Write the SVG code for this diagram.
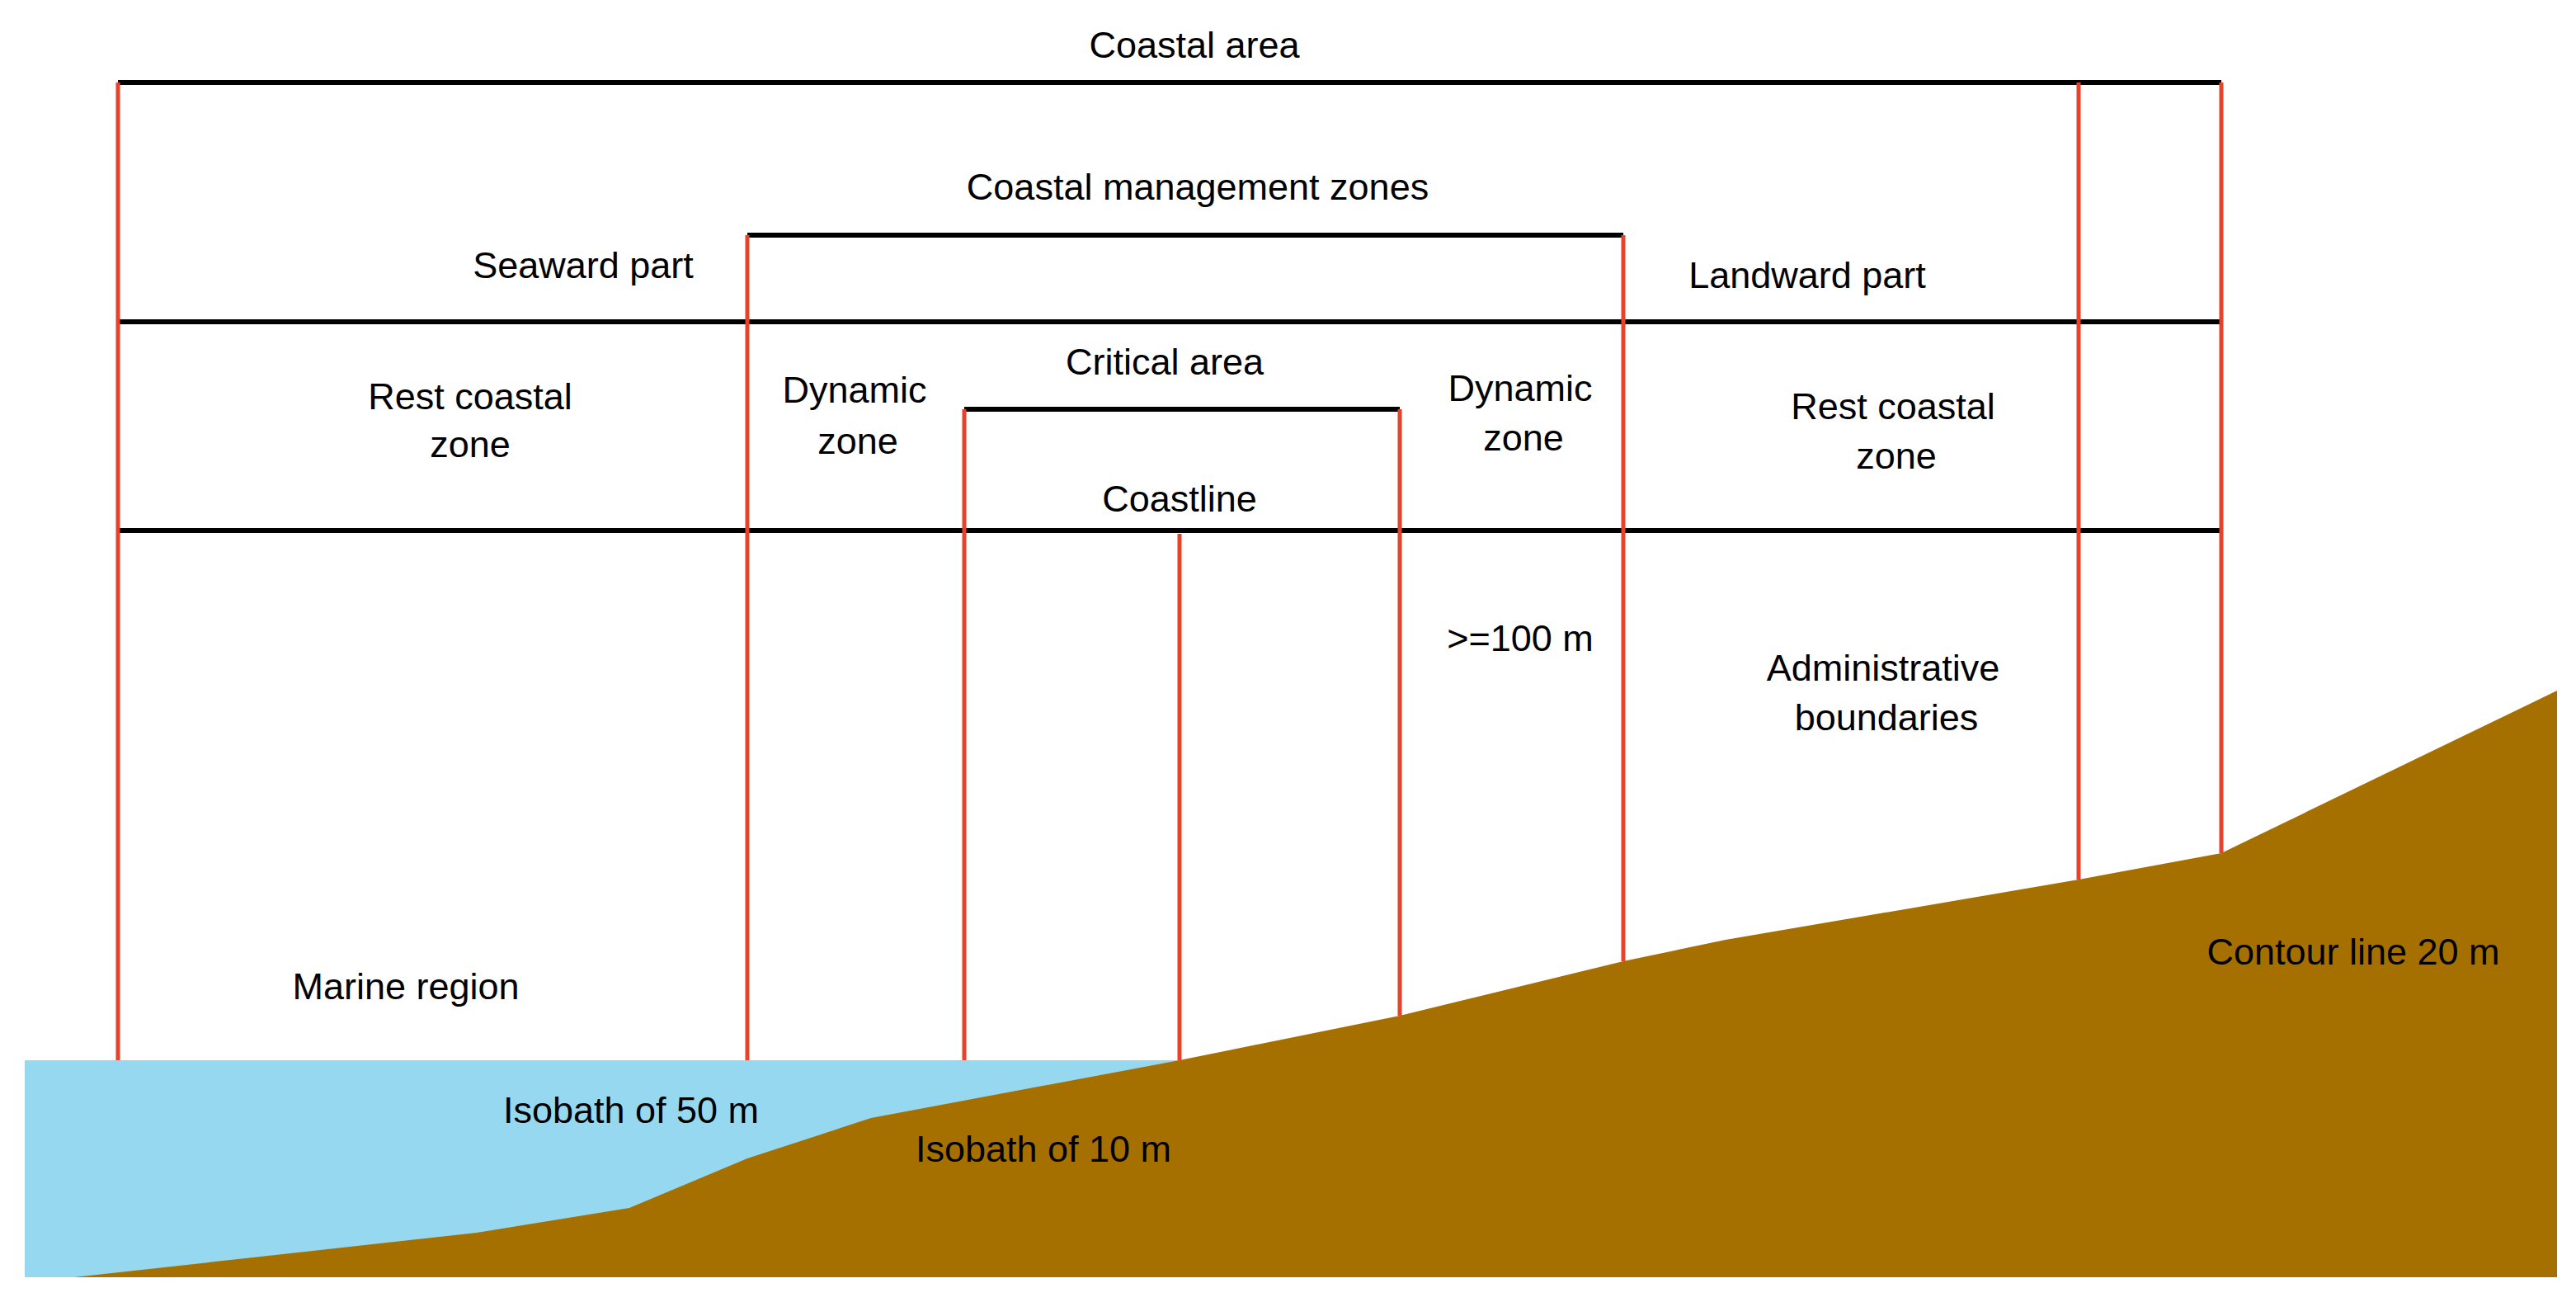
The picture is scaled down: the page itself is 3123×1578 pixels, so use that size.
<svg xmlns="http://www.w3.org/2000/svg" width="3123" height="1578" viewBox="0 0 3123 1578">
<style>
.b{stroke:#000;stroke-width:6;fill:none}
.r{stroke:#e8432a;stroke-width:5;fill:none}
text{font-family:"Liberation Sans",Arial,sans-serif;font-size:45px;fill:#000;text-anchor:middle;dominant-baseline:central}
</style>
<rect width="3123" height="1578" fill="#fff"/>
<g id="sea"><rect x="30" y="1285" width="1420" height="263" fill="#96d8ef"/></g>
<g id="land"><polygon fill="#a57000" points="90,1548 578,1494 763,1464 906,1404 1056,1355 1430,1285 1697,1231 1968,1165 2092,1139 2520,1066 2693,1034 3100,837 3100,1548"/></g>
<g id="connectors">
<line class="b" x1="143" y1="100" x2="2693" y2="100"/>
<line class="b" x1="143" y1="390" x2="2693" y2="390"/>
<line class="b" x1="143" y1="643" x2="2693" y2="643"/>
<line class="b" x1="906" y1="285" x2="1968" y2="285"/>
<line class="b" x1="1169" y1="496" x2="1697" y2="496"/>
<line class="r" x1="143" y1="100" x2="143" y2="1285"/>
<line class="r" x1="906" y1="285" x2="906" y2="1285"/>
<line class="r" x1="1169" y1="496" x2="1169" y2="1285"/>
<line class="r" x1="1430" y1="647" x2="1430" y2="1285"/>
<line class="r" x1="1697" y1="496" x2="1697" y2="1231"/>
<line class="r" x1="1968" y1="285" x2="1968" y2="1165"/>
<line class="r" x1="2520" y1="100" x2="2520" y2="1066"/>
<line class="r" x1="2693" y1="100" x2="2693" y2="1034"/>
</g>
<g id="coastal-area"><text x="1448" y="54">Coastal area</text></g>
<g id="management"><text x="1452" y="226">Coastal management zones</text></g>
<g id="seaward"><text x="707" y="321">Seaward part</text></g>
<g id="landward"><text x="2191" y="333">Landward part</text></g>
<g id="rest-sea"><text x="570" y="480">Rest coastal</text><text x="570" y="538">zone</text></g>
<g id="dyn-sea"><text x="1036" y="472">Dynamic</text><text x="1040" y="534">zone</text></g>
<g id="critical"><text x="1412" y="438">Critical area</text></g>
<g id="dyn-land"><text x="1843" y="470">Dynamic</text><text x="1847" y="530">zone</text></g>
<g id="rest-land"><text x="2295" y="492">Rest coastal</text><text x="2299" y="552">zone</text></g>
<g id="coastline"><text x="1430" y="604">Coastline</text></g>
<g id="dist"><text x="1843" y="773">&gt;=100 m</text></g>
<g id="admin"><text x="2283" y="809">Administrative</text><text x="2287" y="869">boundaries</text></g>
<g id="marine"><text x="492" y="1195">Marine region</text></g>
<g id="iso50"><text x="765" y="1345">Isobath of 50 m</text></g>
<g id="iso10"><text x="1265" y="1392">Isobath of 10 m</text></g>
<g id="contour"><text x="2853" y="1153">Contour line 20 m</text></g>
</svg>
